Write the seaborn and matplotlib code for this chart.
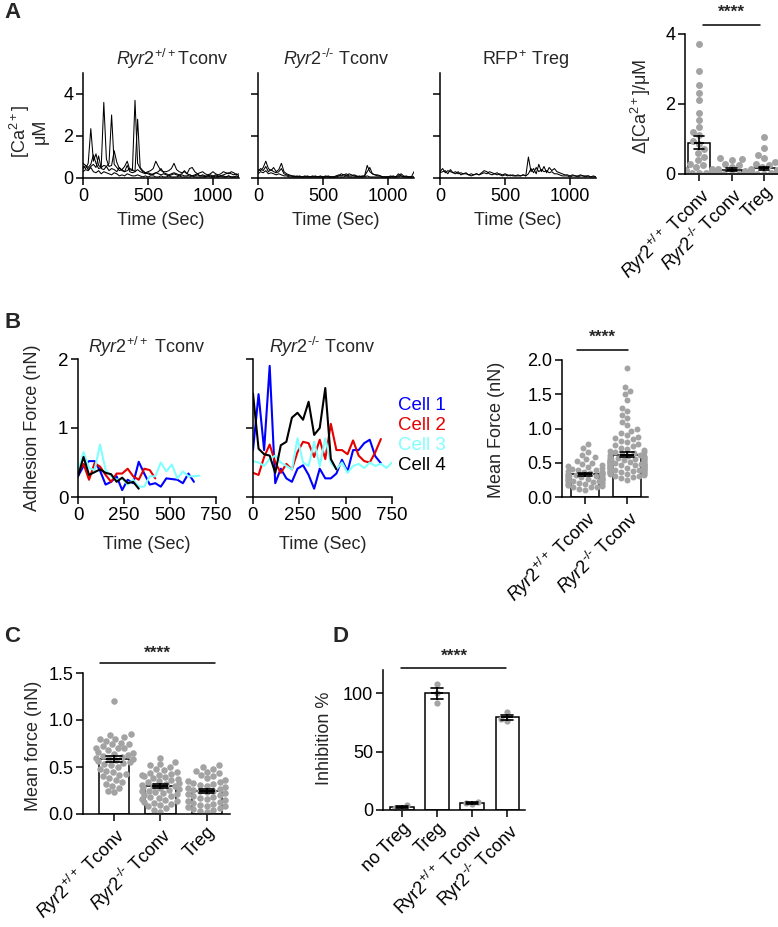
import numpy as np
import pandas as pd
import matplotlib
matplotlib.use("Agg")
import matplotlib.pyplot as plt
import seaborn as sns

# ---------------- data ----------------
# A: [Ca2+] traces (uM), one value every 20 s
t_ca = list(range(0, 1201, 20))
wt_ca_1 = [0.55, 0.45, 0.70, 2.35, 0.80, 1.15, 0.60, 0.50, 3.60, 0.90,
           0.55, 0.60, 1.30, 0.75, 0.45, 0.40, 0.55, 0.80, 0.40, 0.35,
           3.70, 0.70, 0.45, 0.30, 0.25, 0.30, 0.35, 0.45, 0.80, 0.55,
           0.35, 0.30, 0.30, 0.35, 0.45, 0.70, 0.40, 0.30, 0.25, 0.30,
           0.20, 0.45, 0.50, 0.30, 0.20, 0.25, 0.30, 0.20, 0.15, 0.20,
           0.30, 0.20, 0.15, 0.20, 0.30, 0.25, 0.20, 0.30, 0.25, 0.15, 0.20]
wt_ca_2 = [0.70, 0.60, 0.50, 0.65, 1.10, 0.70, 0.45, 0.50, 0.60, 0.55,
           0.70, 3.00, 0.65, 0.50, 0.35, 0.40, 0.30, 0.35, 0.45, 0.40,
           0.30, 2.80, 0.50, 0.35, 0.25, 0.20, 0.15, 0.20, 0.25, 0.30,
           0.45, 0.25, 0.20, 0.15, 0.20, 0.25, 0.20, 0.15, 0.20, 0.35,
           0.20, 0.15, 0.10, 0.15, 0.20, 0.10, 0.15, 0.10, 0.10, 0.15,
           0.10, 0.15, 0.10, 0.10, 0.15, 0.20, 0.25, 0.20, 0.15, 0.20, 0.10]
wt_ca_3 = [0.30, 0.40, 0.35, 0.50, 0.30, 0.25, 0.35, 0.20, 0.30, 0.25,
           0.20, 0.15, 0.25, 0.20, 0.10, 0.15, 0.10, 0.20, 0.15, 0.10,
           0.10, 0.15, 0.10, 0.05, 0.10, 0.05, 0.10, 0.10, 0.05, 0.05,
           0.10, 0.05, 0.05, 0.10, 0.05, 0.05, 0.05, 0.10, 0.05, 0.05,
           0.05, 0.05, 0.10, 0.05, 0.05, 0.05, 0.05, 0.05, 0.10, 0.05,
           0.05, 0.05, 0.05, 0.10, 0.05, 0.05, 0.10, 0.05, 0.05, 0.05, 0.05]
wt_ca_4 = [0.45, 0.60, 0.40, 0.55, 0.65, 0.50, 1.05, 0.45, 0.40, 0.55,
           0.35, 0.45, 0.40, 0.30, 0.50, 0.35, 0.30, 0.60, 0.30, 0.25,
           0.30, 0.40, 0.30, 0.25, 0.20, 0.25, 0.20, 0.15, 0.25, 0.20,
           0.15, 0.20, 0.15, 0.10, 0.15, 0.20, 0.15, 0.10, 0.15, 0.10,
           0.10, 0.15, 0.10, 0.10, 0.15, 0.10, 0.10, 0.05, 0.10, 0.10,
           0.05, 0.10, 0.05, 0.10, 0.10, 0.05, 0.10, 0.05, 0.05, 0.10, 0.05]
ko_ca_1 = [0.40, 0.35, 0.50, 0.80, 0.45, 0.35, 0.50, 0.30, 0.40, 0.70,
           0.30, 0.20, 0.15, 0.10, 0.10, 0.05, 0.10, 0.05, 0.05, 0.10,
           0.05, 0.05, 0.10, 0.05, 0.05, 0.05, 0.10, 0.05, 0.05, 0.05,
           0.10, 0.15, 0.10, 0.15, 0.20, 0.10, 0.10, 0.15, 0.10, 0.05,
           0.10, 0.10, 0.60, 0.30, 0.20, 0.15, 0.10, 0.10, 0.05, 0.05,
           0.05, 0.10, 0.05, 0.05, 0.20, 0.10, 0.05, 0.10, 0.05, 0.05, 0.30]
ko_ca_2 = [0.30, 0.45, 0.35, 0.55, 0.30, 0.40, 0.30, 0.25, 0.30, 0.45,
           0.20, 0.15, 0.10, 0.10, 0.05, 0.10, 0.05, 0.05, 0.10, 0.05,
           0.05, 0.10, 0.05, 0.05, 0.10, 0.05, 0.05, 0.10, 0.05, 0.05,
           0.05, 0.10, 0.20, 0.15, 0.10, 0.20, 0.15, 0.10, 0.05, 0.10,
           0.05, 0.10, 0.30, 0.50, 0.20, 0.15, 0.15, 0.10, 0.05, 0.05,
           0.05, 0.05, 0.10, 0.05, 0.10, 0.20, 0.10, 0.05, 0.05, 0.05, 0.05]
ko_ca_3 = [0.20, 0.30, 0.25, 0.35, 0.20, 0.25, 0.20, 0.15, 0.20, 0.15,
           0.10, 0.10, 0.05, 0.05, 0.05, 0.05, 0.05, 0.05, 0.05, 0.05,
           0.05, 0.05, 0.05, 0.05, 0.05, 0.05, 0.05, 0.05, 0.05, 0.05,
           0.05, 0.05, 0.05, 0.05, 0.10, 0.05, 0.05, 0.05, 0.05, 0.05,
           0.05, 0.05, 0.10, 0.05, 0.05, 0.05, 0.05, 0.05, 0.05, 0.05,
           0.05, 0.05, 0.05, 0.05, 0.05, 0.10, 0.05, 0.05, 0.05, 0.05, 0.05]
treg_ca_1 = [0.30, 0.45, 0.25, 0.35, 0.30, 0.25, 0.30, 0.20, 0.25, 0.20,
             0.20, 0.15, 0.20, 0.15, 0.20, 0.15, 0.20, 0.25, 0.20, 0.30,
             0.25, 0.20, 0.15, 0.20, 0.15, 0.20, 0.15, 0.10, 0.15, 0.10,
             0.15, 0.10, 0.15, 0.10, 1.00, 0.30, 0.45, 0.20, 0.65, 0.30,
             0.55, 0.25, 0.50, 0.35, 0.45, 0.30, 0.25, 0.20, 0.15, 0.15,
             0.10, 0.15, 0.10, 0.10, 0.15, 0.10, 0.10, 0.10, 0.05, 0.10, 0.05]
treg_ca_2 = [0.25, 0.30, 0.35, 0.20, 0.40, 0.25, 0.20, 0.30, 0.15, 0.20,
             0.25, 0.15, 0.10, 0.15, 0.20, 0.15, 0.25, 0.35, 0.30, 0.20,
             0.15, 0.20, 0.25, 0.15, 0.10, 0.15, 0.10, 0.15, 0.10, 0.10,
             0.10, 0.10, 0.15, 0.10, 0.20, 0.45, 0.25, 0.50, 0.30, 0.40,
             0.30, 0.35, 0.25, 0.30, 0.20, 0.20, 0.15, 0.10, 0.10, 0.10,
             0.05, 0.10, 0.10, 0.05, 0.10, 0.10, 0.05, 0.10, 0.05, 0.05, 0.05]

# A right: delta [Ca2+] per cell (uM)
dca_wt = [3.70, 2.95, 2.55, 2.30, 2.10, 1.75, 1.55, 1.35, 1.20, 1.10,
          0.95, 0.85, 0.70, 0.60, 0.50, 0.40, 0.30, 0.25, 0.20, 0.15,
          0.12, 0.10, 0.10, 0.08, 0.05, 0.05, 0.03, 0.02, 0.02]
dca_ko = [0.45, 0.42, 0.40, 0.30, 0.25, 0.20, 0.15, 0.10, 0.08, 0.05,
          0.04, 0.03, 0.02, 0.02, 0.01, 0.01, 0.01, 0.01, 0.00, 0.00]
dca_treg = [1.05, 0.75, 0.55, 0.45, 0.35, 0.30, 0.25, 0.20, 0.15, 0.12,
            0.10, 0.08, 0.06, 0.05, 0.04, 0.03, 0.02, 0.02, 0.02, 0.02,
            0.02, 0.02, 0.02, 0.02, 0.02, 0.02, 0.02, 0.02, 0.01, 0.01]

# B: adhesion force traces (nN), one value every 30 s
cell_names = ["Cell 1", "Cell 2", "Cell 3", "Cell 4"]
cell_colors = ["#0000ff", "#e60000", "#80ffff", "#000000"]
wt_force = [
    [0.30, 0.45, 0.52, 0.52, 0.38, 0.18, 0.22, 0.30, 0.10, 0.25, 0.20,
     0.51, 0.34, 0.18, 0.20, 0.15, 0.27, 0.26, 0.25, 0.20, 0.34, 0.22],
    [0.35, 0.48, 0.25, 0.49, 0.44, 0.32, 0.22, 0.34, 0.34, 0.41, 0.30,
     0.25, 0.41, 0.39, 0.27],
    [0.35, 0.65, 0.42, 0.39, 0.76, 0.39, 0.30, 0.25, 0.27, 0.18, 0.25,
     0.15, 0.15, 0.30, 0.30, 0.50, 0.37, 0.47, 0.27, 0.37, 0.30, 0.30, 0.31],
    [0.30, 0.58, 0.32, 0.36, 0.40, 0.35, 0.33, 0.22, 0.28, 0.20, 0.22, 0.12],
]
ko_force = [
    [0.68, 1.49, 0.68, 1.90, 0.20, 0.41, 0.27, 0.22, 0.41, 0.46, 0.32, 0.12,
     0.41, 0.27, 0.27, 0.34, 0.54, 0.37, 0.68, 0.68, 0.78, 0.83, 0.59, 0.49],
    [0.35, 0.32, 0.58, 0.76, 0.50, 0.35, 0.48, 0.40, 0.65, 0.80, 0.78, 0.58,
     0.83, 0.55, 1.06, 0.68, 0.68, 0.62, 0.82, 0.60, 0.52, 0.50, 0.65, 0.84],
    [0.52, 0.50, 0.45, 0.55, 0.60, 0.50, 0.45, 0.40, 0.85, 0.50, 0.45, 0.80,
     0.45, 0.85, 0.50, 0.40, 0.50, 0.35, 0.45, 0.48, 0.42, 0.50, 0.45, 0.48,
     0.42, 0.50],
    [1.50, 0.70, 0.62, 0.60, 0.35, 0.75, 0.80, 1.15, 1.22, 1.12, 1.38, 0.90,
     1.00, 1.58, 0.55, 0.40],
]

# B right: mean force per cell (nN)
mforce_wt = [0.77, 0.72, 0.66, 0.62, 0.58, 0.55, 0.52, 0.50, 0.48, 0.46,
             0.45, 0.44, 0.42, 0.41, 0.40, 0.39, 0.38, 0.37, 0.36, 0.36,
             0.35, 0.35, 0.34, 0.34, 0.33, 0.33, 0.32, 0.32, 0.31, 0.31,
             0.30, 0.30, 0.29, 0.29, 0.28, 0.28, 0.27, 0.27, 0.26, 0.26,
             0.25, 0.25, 0.24, 0.23, 0.22, 0.21, 0.20, 0.19, 0.18, 0.17,
             0.16, 0.15, 0.14, 0.12, 0.10, 0.15, 0.18, 0.20, 0.22, 0.24]
mforce_ko = [1.88, 1.60, 1.55, 1.50, 1.42, 1.30, 1.25, 1.20, 1.15, 1.10,
             1.05, 1.00, 0.97, 0.94, 0.90, 0.88, 0.86, 0.84, 0.82, 0.80,
             0.78, 0.76, 0.74, 0.72, 0.70, 0.68, 0.67, 0.66, 0.65, 0.64,
             0.63, 0.62, 0.61, 0.60, 0.59, 0.58, 0.57, 0.56, 0.55, 0.54,
             0.53, 0.52, 0.51, 0.50, 0.49, 0.48, 0.47, 0.46, 0.45, 0.44,
             0.43, 0.42, 0.41, 0.40, 0.38, 0.36, 0.34, 0.32, 0.29, 0.25,
             0.60, 0.58, 0.56, 0.55, 0.54, 0.52, 0.50, 0.49, 0.48, 0.46,
             0.45, 0.44, 0.42, 0.40, 0.38, 0.36, 0.35, 0.33, 0.31, 0.28,
             0.55, 0.52, 0.50, 0.47, 0.45, 0.43, 0.41, 0.39, 0.37, 0.35,
             0.50, 0.48, 0.46, 0.44, 0.42, 0.40, 0.38, 0.36, 0.34, 0.30]

# C: mean force (nN)
c_wt = [1.20, 0.85, 0.84, 0.82, 0.80, 0.78, 0.76, 0.74, 0.72, 0.70,
        0.70, 0.68, 0.66, 0.65, 0.64, 0.63, 0.62, 0.61, 0.60, 0.59,
        0.58, 0.57, 0.56, 0.55, 0.54, 0.53, 0.52, 0.50, 0.48, 0.46,
        0.45, 0.43, 0.42, 0.40, 0.38, 0.36, 0.34, 0.32, 0.30, 0.28,
        0.25, 0.23, 0.80, 0.75, 0.70]
c_ko = [0.60, 0.55, 0.53, 0.52, 0.50, 0.48, 0.47, 0.45, 0.44, 0.43,
        0.42, 0.41, 0.40, 0.39, 0.38, 0.37, 0.36, 0.35, 0.34, 0.33,
        0.32, 0.31, 0.30, 0.30, 0.29, 0.28, 0.27, 0.26, 0.25, 0.24,
        0.23, 0.22, 0.21, 0.20, 0.19, 0.18, 0.17, 0.16, 0.15, 0.14,
        0.13, 0.12, 0.11, 0.10, 0.08, 0.06, 0.04, 0.02]
c_treg = [0.52, 0.50, 0.48, 0.46, 0.45, 0.44, 0.42, 0.40, 0.38, 0.36,
          0.35, 0.34, 0.33, 0.32, 0.31, 0.30, 0.29, 0.28, 0.27, 0.26,
          0.25, 0.24, 0.23, 0.22, 0.21, 0.20, 0.19, 0.18, 0.17, 0.16,
          0.15, 0.14, 0.13, 0.12, 0.11, 0.10, 0.09, 0.08, 0.07, 0.06,
          0.05, 0.04, 0.03, 0.02]

# D: inhibition %
d_notreg = [1, 4, 2]
d_treg = [108, 100, 92]
d_wt = [7, 5, 6]
d_ko = [84, 76, 78]

# tick labels
lab_wt = r"$\mathit{Ryr2}^{+/+}$ Tconv"
lab_ko = r"$\mathit{Ryr2}^{\text{-/-}}$ Tconv"
lab_d = ["no Treg", "Treg", r"Ryr2$^{+/+}$ Tconv", r"Ryr2$^{\text{-/-}}$ Tconv"]

# ---------------- style ----------------
FS = 13
sns.set_style("ticks")
plt.rcParams["font.family"] = ["Liberation Sans", "DejaVu Sans"]
plt.rcParams["mathtext.fontset"] = "custom"
plt.rcParams["mathtext.rm"] = "Liberation Sans"
plt.rcParams["mathtext.it"] = "Liberation Sans:italic"
plt.rcParams["mathtext.bf"] = "Liberation Sans:bold"
plt.rcParams["font.size"] = FS
plt.rcParams["axes.linewidth"] = 1.1
plt.rcParams["axes.edgecolor"] = "black"
plt.rcParams["xtick.color"] = "black"
plt.rcParams["ytick.color"] = "black"

GRAY = "#a3a3a3"
W, H = 778, 927
fig = plt.figure(figsize=(W / 100, H / 100), dpi=100)


def add_ax(left, top, right, bottom):
    return fig.add_axes([left / W, 1 - bottom / H, (right - left) / W, (bottom - top) / H])


def style(ax, size=FS):
    sns.despine(ax=ax)
    ax.tick_params(width=1.1, length=5, labelsize=size, pad=2)


def trace_panel(ax, traces, title, title_x, show_y):
    df = pd.DataFrame({
        "t": t_ca * len(traces),
        "ca": sum(traces, []),
        "cell": np.repeat(np.arange(len(traces)), len(t_ca)),
    })
    sns.lineplot(data=df, x="t", y="ca", units="cell", estimator=None,
                 color="black", linewidth=0.75, ax=ax)
    ax.set_xlim(0, 1200)
    ax.set_ylim(0, 5)
    ax.set_xticks([0, 500, 1000])
    ax.set_yticks([0, 2, 4])
    if not show_y:
        ax.set_yticklabels([])
    ax.set_xlabel("Time (Sec)", fontsize=FS)
    ax.xaxis.set_label_coords(0.5, -0.32)
    ax.set_ylabel("")
    ax.set_title(title, x=title_x, pad=6, fontsize=FS)
    style(ax)


def force_panel(ax, traces, title, legend):
    rows = []
    for name, vals in zip(cell_names, traces):
        for i, v in enumerate(vals):
            rows.append((name, i * 30, v))
    df = pd.DataFrame(rows, columns=["cell", "t", "force"])
    sns.lineplot(data=df, x="t", y="force", hue="cell", palette=cell_colors,
                 linewidth=1.5, ax=ax, legend=legend)
    ax.set_xlim(0, 750)
    ax.set_ylim(0, 2)
    ax.set_xticks([0, 250, 500, 750])
    ax.set_yticks([0, 1, 2])
    ax.set_xlabel("Time (Sec)", fontsize=FS)
    ax.xaxis.set_label_coords(0.5, -0.28)
    ax.set_ylabel("")
    ax.set_title(title, pad=4, fontsize=FS)
    style(ax, 13.5)


def bar_panel(ax, groups, labels, spacing_px, dot):
    rows = [(i, v) for i, vals in enumerate(groups) for v in vals]
    df = pd.DataFrame(rows, columns=["g", "v"])
    sns.barplot(data=df, x="g", y="v", errorbar=None, width=0.66, color="white",
                edgecolor="black", linewidth=1.1, ax=ax, zorder=1)
    sns.swarmplot(data=df, x="g", y="v", color=GRAY, size=dot, ax=ax,
                  zorder=2, warn_thresh=1)
    sns.pointplot(data=df, x="g", y="v", errorbar="se", capsize=0.33, color="black",
                  marker="_", markersize=0.33 * spacing_px * 0.72, markeredgewidth=1.4,
                  linestyle="none", err_kws={"linewidth": 1.2}, ax=ax, zorder=3)
    ax.set_xticks(range(len(labels)))
    ax.set_xticklabels(labels, rotation=45, ha="right", rotation_mode="anchor")
    ax.set_xlabel("")
    style(ax)


def sig(ax, x0, x1, y, ys, xc):
    ax.plot([x0, x1], [y, y], color="black", lw=1.1, clip_on=False)
    ax.text(xc, ys, "****", ha="center", va="center", fontsize=12.5,
            fontweight="bold", clip_on=False)


# ---------------- panel A ----------------
a1 = add_ax(83, 73, 239, 178)
trace_panel(a1, [wt_ca_1, wt_ca_2, wt_ca_3, wt_ca_4], r"$\mathit{Ryr2}^{+/+}$Tconv", 0.57, True)
a1.set_ylabel("[Ca$^{2+}$]\nμM", linespacing=1.0)
a1.yaxis.set_label_coords(-0.22, 0.44)
a2 = add_ax(258, 73, 414, 178)
trace_panel(a2, [ko_ca_1, ko_ca_2, ko_ca_3], lab_ko, 0.5, False)
a3 = add_ax(440, 73, 596, 178)
trace_panel(a3, [treg_ca_1, treg_ca_2], r"RFP$^{+}$ Treg", 0.55, False)

ar = add_ax(685, 34, 778, 174)
bar_panel(ar, [dca_wt, dca_ko, dca_treg], [lab_wt, lab_ko, "Treg"], 32.5, 5)
ar.set_xlim(-0.43, 2.43)
ar.set_ylim(0, 4)
ar.set_yticks([0, 2, 4])
ar.set_ylabel("Δ[Ca$^{2+}$]/μM")
ar.yaxis.set_label_coords(-0.34, 0.48)
sig(ar, 0.12, 1.88, 4.26, 4.62, 1.0)

# ---------------- panel B ----------------
b1 = add_ax(78, 359, 216, 497)
force_panel(b1, wt_force, r"$\mathit{Ryr2}^{+/+}$ Tconv", False)
b1.set_ylabel("Adhesion Force (nN)")
b1.yaxis.set_label_coords(-0.27, 0.5)
b2 = add_ax(253, 359, 392, 497)
force_panel(b2, ko_force, lab_ko, True)
b2.set_yticklabels([])
leg = b2.legend(frameon=False, handlelength=0, handletextpad=0, labelcolor="linecolor",
                loc="upper left", bbox_to_anchor=(0.99, 0.78), borderaxespad=0,
                fontsize=13.5, labelspacing=0.15)
for h in leg.legend_handles:
    h.set_visible(False)

br = add_ax(562, 360, 648, 497)
bar_panel(br, [mforce_wt, mforce_ko], [lab_wt, lab_ko], 42, 4.3)
br.set_xlim(-0.55, 1.5)
br.set_ylim(0, 2)
br.set_yticks([0, 0.5, 1.0, 1.5, 2.0])
br.set_yticklabels(["0.0", "0.5", "1.0", "1.5", "2.0"])
br.set_ylabel("Mean Force (nN)")
br.yaxis.set_label_coords(-0.66, 0.49)
sig(br, -0.19, 1.02, 2.14, 2.33, 0.42)

# ---------------- panel C ----------------
c = add_ax(83, 673, 230, 814)
bar_panel(c, [c_wt, c_ko, c_treg], [lab_wt, lab_ko, "Treg"], 46.5, 4.7)
c.set_xlim(-0.67, 2.5)
c.set_ylim(0, 1.5)
c.set_yticks([0, 0.5, 1.0, 1.5])
c.set_yticklabels(["0.0", "0.5", "1.0", "1.5"])
c.set_ylabel("Mean force (nN)")
c.yaxis.set_label_coords(-0.28, 0.48)
sig(c, -0.3, 2.17, 1.61, 1.71, 0.93)

# ---------------- panel D ----------------
d = add_ax(383, 670, 525, 810)
bar_panel(d, [d_notreg, d_treg, d_wt, d_ko], lab_d, 35, 4.5)
d.set_xlim(-0.54, 3.51)
d.set_ylim(0, 120)
d.set_yticks([0, 50, 100])
d.set_ylabel("Inhibition %")
d.yaxis.set_label_coords(-0.35, 0.51)
sig(d, -0.03, 2.97, 122, 132, 1.5)

# panel letters
for letter, x, y in [("A", 4, 12), ("B", 4, 322), ("C", 4, 636), ("D", 333, 636)]:
    fig.text(x / W, 1 - y / H, letter, fontsize=16, fontweight="bold", va="center")

fig.savefig("out.png", dpi=100)
